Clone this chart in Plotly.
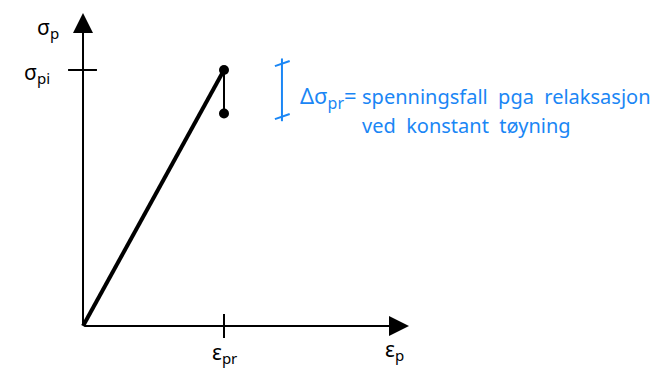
import plotly.graph_objects as go

# Stress-strain path: loading up to sigma_pi at eps_pr, then relaxation at constant strain
strain = [0.0, 1.0]
stress = [0.0, 1.0]
relax_strain = [1.0, 1.0]
relax_stress = [1.0, 0.83]


def sub(s, size=15):
    return "<sub><span style='font-size:%dpx'>%s</span></sub>" % (size, s)


x_tick_label = "ε" + sub("pr")
y_tick_label = "σ" + sub("pi")
x_axis_label = "ε" + sub("p")
y_axis_label = "σ" + sub("p")
note_lhs = "Δσ" + sub("pr", 16) + "="
note_line1 = "spenningsfall  pga  relaksasjon"
note_line2 = "ved  konstant  tøyning"

BLUE = "#1a86f5"
FONT = "Noto Sans"

fig = go.Figure()

fig.add_trace(go.Scatter(x=strain, y=stress, mode="lines",
                         line=dict(color="black", width=4), hoverinfo="skip"))
fig.add_trace(go.Scatter(x=relax_strain, y=relax_stress, mode="lines+markers",
                         line=dict(color="black", width=2),
                         marker=dict(color="black", size=10), hoverinfo="skip"))

# Axes drawn as arrows
x_tip, y_tip = 2.312, 1.223
fig.add_annotation(x=x_tip, y=0, ax=0, ay=0, xref="x", yref="y", axref="x", ayref="y",
                   showarrow=True, arrowhead=2, arrowsize=2, arrowwidth=2, arrowcolor="black", text="")
fig.add_annotation(x=0, y=y_tip, ax=0, ay=0, xref="x", yref="y", axref="x", ayref="y",
                   showarrow=True, arrowhead=2, arrowsize=2, arrowwidth=2, arrowcolor="black", text="")

# Tick marks at sigma_pi and eps_pr
fig.add_shape(type="line", x0=-0.106, x1=0.099, y0=stress[1], y1=stress[1],
              line=dict(color="black", width=2))
fig.add_shape(type="line", x0=strain[1], x1=strain[1], y0=-0.047, y1=0.047,
              line=dict(color="black", width=2))

# Blue dimension bracket for the stress drop
bx = 1.411
fig.add_shape(type="line", x0=bx, x1=bx, y0=0.80, y1=1.045, line=dict(color=BLUE, width=2))
for yy in (1.025, 0.818):
    fig.add_shape(type="line", x0=bx - 0.05, x1=bx + 0.055, y0=yy - 0.01, y1=yy + 0.01,
                  line=dict(color=BLUE, width=2))

font_k = dict(family=FONT, size=21, color="black")
font_b = dict(family=FONT, size=20, color=BLUE)
font_lhs = dict(family=FONT, size=22, color=BLUE)

fig.add_annotation(x=-0.248, y=1.164, text=y_axis_label, showarrow=False, font=font_k)
fig.add_annotation(x=-0.325, y=0.99, text=y_tick_label, showarrow=False, font=font_k)
fig.add_annotation(x=1.0, y=-0.105, text=x_tick_label, showarrow=False, font=font_k)
fig.add_annotation(x=2.21, y=-0.095, text=x_axis_label, showarrow=False, font=font_k)

fig.add_annotation(x=1.96, y=0.895, text=note_lhs, showarrow=False, xanchor="right", font=font_lhs)
fig.add_annotation(x=1.965, y=0.895, text=note_line1, showarrow=False, xanchor="left", font=font_b)
fig.add_annotation(x=1.965, y=0.785, text=note_line2, showarrow=False, xanchor="left", font=font_b)

fig.update_layout(
    width=662, height=379,
    margin=dict(l=0, r=0, t=0, b=0),
    paper_bgcolor="white", plot_bgcolor="white",
    showlegend=False,
    xaxis=dict(range=[-0.5887, 4.1064], visible=False, fixedrange=True),
    yaxis=dict(range=[-0.207, 1.2734], visible=False, fixedrange=True),
)

fig.write_html("out.html")
